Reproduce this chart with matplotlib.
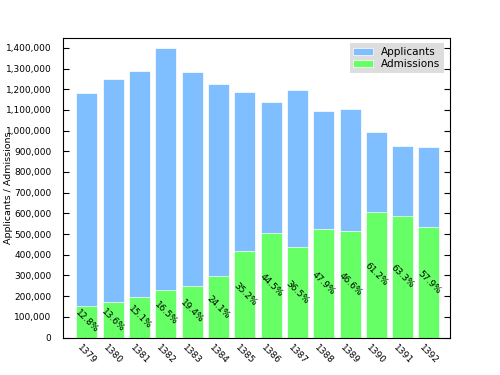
import numpy as np
import matplotlib
matplotlib.use("Agg")
import matplotlib.pyplot as plt
from matplotlib.ticker import FuncFormatter

years = ['1379', '1380', '1381', '1382', '1383', '1384', '1385',
         '1386', '1387', '1388', '1389', '1390', '1391', '1392']
applicants = [1184000, 1250000, 1289000, 1398000, 1282000, 1227000, 1187000,
              1139000, 1195000, 1097000, 1106000, 992000, 926000, 919000]
admissions = [151500, 170000, 194600, 230700, 248700, 295700, 417800,
              506900, 436200, 525500, 515400, 607100, 586200, 532100]

x = np.arange(len(years))

fig = plt.figure(figsize=(5, 3.75), dpi=100)
ax = fig.add_axes([0.125, 0.1, 0.775, 0.8])

ax.bar(x, applicants, 0.8, color='#80bfff', edgecolor='white', linewidth=0.5, label='Applicants')
ax.bar(x, admissions, 0.8, color='#66ff66', edgecolor='white', linewidth=0.5, label='Admissions')

# percentage of applicants admitted, placed halfway up the green bar
for xi, a, b in zip(x, applicants, admissions):
    ax.text(xi, b / 2.0, '%.1f%%' % (100.0 * b / a), rotation=-45,
            ha='center', va='center', fontsize=6.5)

ax.set_xlim(-0.93, 13.8)
ax.set_ylim(0, 1450000)
ax.set_yticks(np.arange(0, 1400001, 100000))
ax.yaxis.set_major_formatter(FuncFormatter(lambda v, p: '{:,}'.format(int(v))))
ax.set_xticks(x)
ax.set_xticklabels(years, rotation=-45, ha='center')

ax.tick_params(axis='y', direction='in', left=True, right=True, length=4,
               labelsize=6.5, pad=8)
ax.tick_params(axis='x', length=0, labelsize=6.5, pad=4)
ax.set_ylabel('Applicants / Admissions', fontsize=6.8)
ax.yaxis.set_label_coords(-0.128, 0.5)

leg = ax.legend(loc='upper right', fontsize=7.5, frameon=True, fancybox=False,
                borderaxespad=0.55, handlelength=1.9, labelspacing=0.25,
                borderpad=0.35, handletextpad=0.8)
leg.get_frame().set_facecolor('#dddddd')
leg.get_frame().set_edgecolor('none')
leg.get_frame().set_alpha(1.0)

fig.savefig('out.png', dpi=100)
